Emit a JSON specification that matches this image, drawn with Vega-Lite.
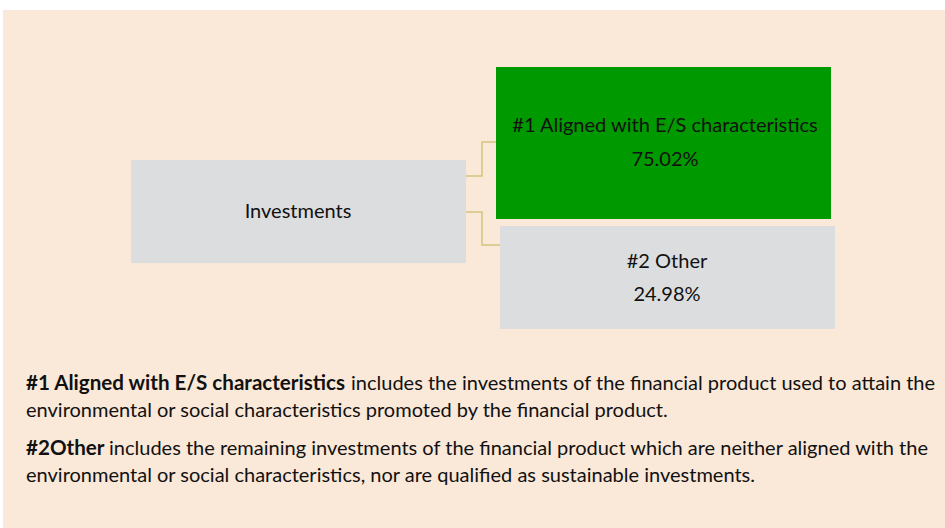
{
  "$schema": "https://vega.github.io/schema/vega-lite/v6.json",
  "width": 945,
  "height": 528,
  "autosize": {"type": "fit", "contains": "padding"},
  "padding": 0,
  "background": "#ffffff",
  "config": {"view": {"stroke": null}},
  "layer": [
    {
      "data": {"values": [
        {"box": "panel", "x1": 3, "x2": 945, "y1": 10, "y2": 528},
        {"box": "Investments", "x1": 131, "x2": 466, "y1": 160, "y2": 263},
        {"box": "#1 Aligned with E/S characteristics", "x1": 496, "x2": 831, "y1": 67, "y2": 219},
        {"box": "#2 Other", "x1": 500, "x2": 835, "y1": 226, "y2": 329}
      ]},
      "mark": {"type": "rect"},
      "encoding": {
        "x": {"field": "x1", "type": "quantitative", "axis": null, "scale": {"domain": [0, 945], "nice": false, "zero": false}},
        "x2": {"field": "x2"},
        "y": {"field": "y1", "type": "quantitative", "axis": null, "scale": {"domain": [0, 528], "nice": false, "zero": false, "reverse": true}},
        "y2": {"field": "y2"},
        "color": {"field": "box", "type": "nominal", "legend": null,
          "scale": {"domain": ["panel", "Investments", "#1 Aligned with E/S characteristics", "#2 Other"],
                    "range": ["#FAE8D8", "#DCDDDE", "#009900", "#DCDDDE"]}}
      }
    },
    {
      "data": {"values": [
        {"link": "a", "step": 1, "x": 466, "y": 176},
        {"link": "a", "step": 2, "x": 482, "y": 176},
        {"link": "a", "step": 3, "x": 482, "y": 142},
        {"link": "a", "step": 4, "x": 496, "y": 142},
        {"link": "b", "step": 1, "x": 466, "y": 212},
        {"link": "b", "step": 2, "x": 482, "y": 212},
        {"link": "b", "step": 3, "x": 482, "y": 245},
        {"link": "b", "step": 4, "x": 500, "y": 245}
      ]},
      "mark": {"type": "line", "color": "#D4C47C", "strokeWidth": 1.5},
      "encoding": {
        "x": {"field": "x", "type": "quantitative", "axis": null, "scale": {"domain": [0, 945], "nice": false, "zero": false}},
        "y": {"field": "y", "type": "quantitative", "axis": null, "scale": {"domain": [0, 528], "nice": false, "zero": false, "reverse": true}},
        "detail": {"field": "link"},
        "order": {"field": "step", "type": "quantitative"}
      }
    },
    {
      "data": {"values": [
        {"label": "Investments", "x": 298, "y": 212},
        {"label": "#1 Aligned with E/S characteristics", "x": 665, "y": 126},
        {"label": "75.02%", "x": 665, "y": 160},
        {"label": "#2 Other", "x": 667, "y": 262},
        {"label": "24.98%", "x": 667, "y": 295}
      ]},
      "mark": {"type": "text", "align": "center", "baseline": "middle", "font": "Lato", "fontSize": 20, "color": "#111111"},
      "encoding": {
        "x": {"field": "x", "type": "quantitative", "axis": null, "scale": {"domain": [0, 945], "nice": false, "zero": false}},
        "y": {"field": "y", "type": "quantitative", "axis": null, "scale": {"domain": [0, 528], "nice": false, "zero": false, "reverse": true}},
        "text": {"field": "label"}
      }
    },
    {
      "data": {"values": [
        {"label": "#1 Aligned with E/S characteristics", "x": 26, "y": 384},
        {"label": "#2Other", "x": 26, "y": 449}
      ]},
      "mark": {"type": "text", "align": "left", "baseline": "middle", "font": "Lato", "fontSize": 20.6, "fontWeight": "bold", "color": "#111111"},
      "encoding": {
        "x": {"field": "x", "type": "quantitative", "axis": null, "scale": {"domain": [0, 945], "nice": false, "zero": false}},
        "y": {"field": "y", "type": "quantitative", "axis": null, "scale": {"domain": [0, 528], "nice": false, "zero": false, "reverse": true}},
        "text": {"field": "label"}
      }
    },
    {
      "data": {"values": [
        {"label": "includes the investments of the financial product used to attain the", "x": 351, "y": 384},
        {"label": "environmental or social characteristics promoted by the financial product.", "x": 26, "y": 411},
        {"label": "includes the remaining investments of the financial product which are neither aligned with the", "x": 109, "y": 449},
        {"label": "environmental or social characteristics, nor are qualified as sustainable investments.", "x": 26, "y": 476}
      ]},
      "mark": {"type": "text", "align": "left", "baseline": "middle", "font": "Lato", "fontSize": 20, "color": "#111111"},
      "encoding": {
        "x": {"field": "x", "type": "quantitative", "axis": null, "scale": {"domain": [0, 945], "nice": false, "zero": false}},
        "y": {"field": "y", "type": "quantitative", "axis": null, "scale": {"domain": [0, 528], "nice": false, "zero": false, "reverse": true}},
        "text": {"field": "label"}
      }
    }
  ]
}
